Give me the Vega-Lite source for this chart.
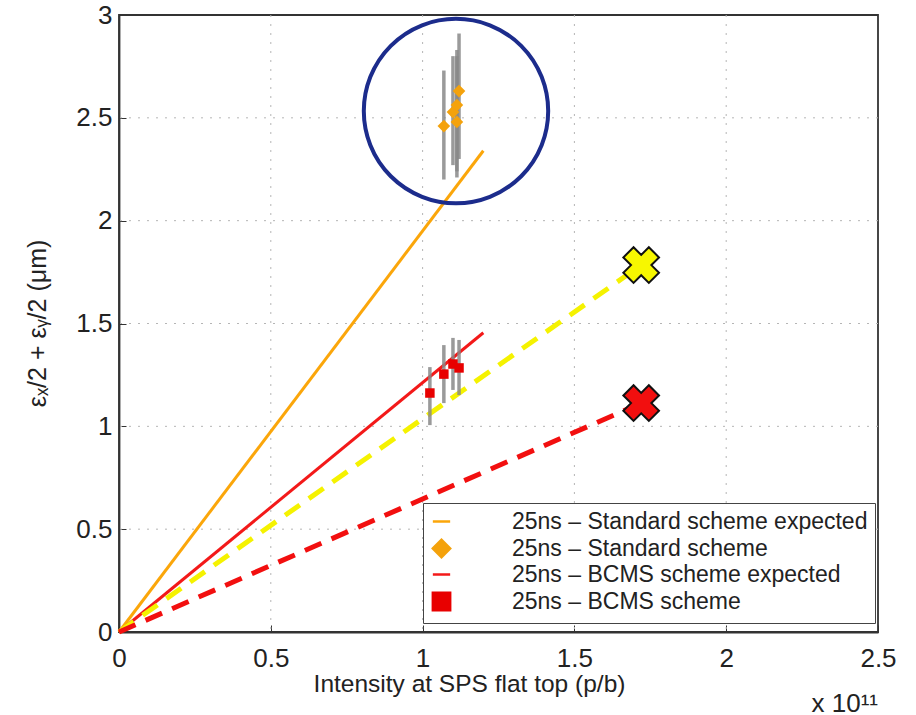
{
  "$schema": "https://vega.github.io/schema/vega-lite/v6.json",
  "width": 759,
  "height": 617,
  "autosize": "none",
  "padding": {"left": 119, "top": 15, "right": 38, "bottom": 83},
  "background": "white",
  "config": {
    "view": {"stroke": "#333", "strokeWidth": 1.8},
    "font": "Liberation Sans",
    "axis": {
      "domainColor": "#333",
      "domainWidth": 1.8,
      "tickColor": "#333",
      "tickWidth": 1,
      "labelFont": "Liberation Sans",
      "labelFontSize": 26,
      "labelColor": "#222",
      "labelFlush": false,
      "labelOverlap": false,
      "titleFont": "Liberation Sans",
      "titleFontWeight": "normal",
      "titleColor": "#222",
      "grid": false
    }
  },
  "title": {
    "text": "x 10¹¹",
    "orient": "bottom",
    "anchor": "end",
    "frame": "group",
    "font": "Liberation Sans",
    "fontSize": 26,
    "fontWeight": "normal",
    "color": "#222",
    "offset": -5
  },
  "datasets": {
    "xgrid": [{"x": 0.5}, {"x": 1}, {"x": 1.5}, {"x": 2}],
    "ygrid": [{"y": 0.5}, {"y": 1}, {"y": 1.5}, {"y": 2}, {"y": 2.5}],
    "expected": [
      {"series": "25ns – Standard scheme expected", "x": 0, "y": 0},
      {"series": "25ns – Standard scheme expected", "x": 1.2, "y": 2.34},
      {"series": "25ns – BCMS scheme expected", "x": 0, "y": 0},
      {"series": "25ns – BCMS scheme expected", "x": 1.2, "y": 1.455}
    ],
    "projection": [
      {"scheme": "Standard", "x": 0, "y": 0},
      {"scheme": "Standard", "x": 1.72, "y": 1.784},
      {"scheme": "BCMS", "x": 0, "y": 0},
      {"scheme": "BCMS", "x": 1.72, "y": 1.113}
    ],
    "measured": [
      {"series": "25ns – Standard scheme", "x": 1.07, "y": 2.46, "lo": 2.2, "hi": 2.73},
      {"series": "25ns – Standard scheme", "x": 1.113, "y": 2.48, "lo": 2.21, "hi": 2.83},
      {"series": "25ns – Standard scheme", "x": 1.1, "y": 2.528, "lo": 2.27, "hi": 2.8},
      {"series": "25ns – Standard scheme", "x": 1.113, "y": 2.562, "lo": 2.24, "hi": 2.8},
      {"series": "25ns – Standard scheme", "x": 1.12, "y": 2.63, "lo": 2.3, "hi": 2.91},
      {"series": "25ns – BCMS scheme", "x": 1.024, "y": 1.162, "lo": 1.006, "hi": 1.288},
      {"series": "25ns – BCMS scheme", "x": 1.07, "y": 1.254, "lo": 1.113, "hi": 1.395},
      {"series": "25ns – BCMS scheme", "x": 1.1, "y": 1.303, "lo": 1.177, "hi": 1.43},
      {"series": "25ns – BCMS scheme", "x": 1.12, "y": 1.284, "lo": 1.152, "hi": 1.42}
    ],
    "targets": [
      {"scheme": "Standard", "x": 1.72, "y": 1.784},
      {"scheme": "BCMS", "x": 1.72, "y": 1.113}
    ],
    "highlight": [
      {"x": 1.11, "y": 2.533}
    ]
  },
  "layer": [
    {
      "data": {"name": "xgrid"},
      "mark": {"type": "rule", "color": "#b5b5b5", "strokeWidth": 1, "strokeDash": [2, 7]},
      "encoding": {
        "x": {"field": "x", "type": "quantitative"}
      }
    },
    {
      "data": {"name": "ygrid"},
      "mark": {"type": "rule", "color": "#b5b5b5", "strokeWidth": 1, "strokeDash": [2, 7]},
      "encoding": {
        "y": {"field": "y", "type": "quantitative"}
      }
    },
    {
      "data": {"name": "expected"},
      "mark": {"type": "line", "strokeWidth": 3},
      "encoding": {
        "x": {
          "field": "x", "type": "quantitative",
          "scale": {"domain": [0, 2.5], "nice": false, "zero": false},
          "axis": {
            "orient": "bottom",
            "title": "Intensity at SPS flat top (p/b)",
            "titleFontSize": 24.5,
            "titleX": 350,
            "titleY": 59,
            "titleBaseline": "alphabetic",
            "values": [0, 0.5, 1, 1.5, 2, 2.5],
            "format": "~g",
            "labelOverlap": false,
            "labelPadding": 20,
            "tickSize": -7,
            "grid": false
          }
        },
        "y": {
          "field": "y", "type": "quantitative",
          "scale": {"domain": [0, 3], "nice": false, "zero": false},
          "axis": {
            "orient": "left",
            "title": "εₓ/2 + εᵧ/2 (μm)",
            "titleFontSize": 25,
            "titleAngle": -90,
            "titleX": -74,
            "titleY": 308,
            "titleAlign": "center",
            "titleBaseline": "alphabetic",
            "values": [0, 0.5, 1, 1.5, 2, 2.5, 3],
            "format": "~g",
            "labelOverlap": false,
            "labelPadding": 14,
            "tickSize": -7,
            "grid": false
          }
        },
        "color": {
          "field": "series", "type": "nominal",
          "scale": {
            "domain": ["25ns – Standard scheme expected", "25ns – Standard scheme", "25ns – BCMS scheme expected", "25ns – BCMS scheme"],
            "range": ["#fba60a", "#f4a20c", "#f31919", "#e80000"]
          },
          "legend": {
            "title": null,
            "orient": "none",
            "legendX": 304,
            "legendY": 488,
            "padding": 7,
            "rowPadding": 0,
            "symbolSize": 300,
            "symbolStrokeWidth": 2.5,
            "labelOffset": 59,
            "labelFont": "Liberation Sans",
            "labelFontSize": 23,
            "labelColor": "#222",
            "labelLimit": 600,
            "strokeColor": "#444",
            "fillColor": "white"
          }
        }
      }
    },
    {
      "data": {"name": "projection"},
      "transform": [{"filter": "datum.scheme == 'Standard'"}],
      "mark": {"type": "line", "color": "#f5f200", "strokeWidth": 5, "strokeDash": [18, 11]},
      "encoding": {
        "x": {"field": "x", "type": "quantitative"},
        "y": {"field": "y", "type": "quantitative"}
      }
    },
    {
      "data": {"name": "projection"},
      "transform": [{"filter": "datum.scheme == 'BCMS'"}],
      "mark": {"type": "line", "color": "#f20f0f", "strokeWidth": 5, "strokeDash": [18, 11]},
      "encoding": {
        "x": {"field": "x", "type": "quantitative"},
        "y": {"field": "y", "type": "quantitative"}
      }
    },
    {
      "data": {"name": "measured"},
      "mark": {"type": "rule", "color": "#888888", "strokeWidth": 3.5, "opacity": 0.85},
      "encoding": {
        "x": {"field": "x", "type": "quantitative"},
        "y": {"field": "lo", "type": "quantitative"},
        "y2": {"field": "hi"}
      }
    },
    {
      "data": {"name": "measured"},
      "mark": {"type": "point", "filled": true, "strokeWidth": 1, "opacity": 1},
      "encoding": {
        "x": {"field": "x", "type": "quantitative"},
        "y": {"field": "y", "type": "quantitative"},
        "color": {"field": "series", "type": "nominal"},
        "shape": {
          "field": "series", "type": "nominal",
          "scale": {
            "domain": ["25ns – Standard scheme expected", "25ns – Standard scheme", "25ns – BCMS scheme expected", "25ns – BCMS scheme"],
            "range": ["stroke", "diamond", "stroke", "square"]
          },
          "legend": {"title": null}
        },
        "size": {
          "field": "series", "type": "nominal",
          "scale": {"domain": ["25ns – Standard scheme", "25ns – BCMS scheme"], "range": [160, 90]},
          "legend": null
        }
      }
    },
    {
      "data": {"name": "targets"},
      "transform": [{"filter": "datum.scheme == 'Standard'"}],
      "mark": {"type": "point", "shape": "cross", "angle": 45, "size": 1300, "filled": true, "fill": "#f7f700", "stroke": "#111", "strokeWidth": 2, "opacity": 1},
      "encoding": {
        "x": {"field": "x", "type": "quantitative"},
        "y": {"field": "y", "type": "quantitative"}
      }
    },
    {
      "data": {"name": "targets"},
      "transform": [{"filter": "datum.scheme == 'BCMS'"}],
      "mark": {"type": "point", "shape": "cross", "angle": 45, "size": 1300, "filled": true, "fill": "#f20f0f", "stroke": "#111", "strokeWidth": 2, "opacity": 1},
      "encoding": {
        "x": {"field": "x", "type": "quantitative"},
        "y": {"field": "y", "type": "quantitative"}
      }
    },
    {
      "data": {"name": "highlight"},
      "mark": {"type": "point", "shape": "circle", "filled": false, "size": 34000, "stroke": "#1c2c8c", "strokeWidth": 4, "opacity": 1},
      "encoding": {
        "x": {"field": "x", "type": "quantitative"},
        "y": {"field": "y", "type": "quantitative"}
      }
    }
  ]
}
